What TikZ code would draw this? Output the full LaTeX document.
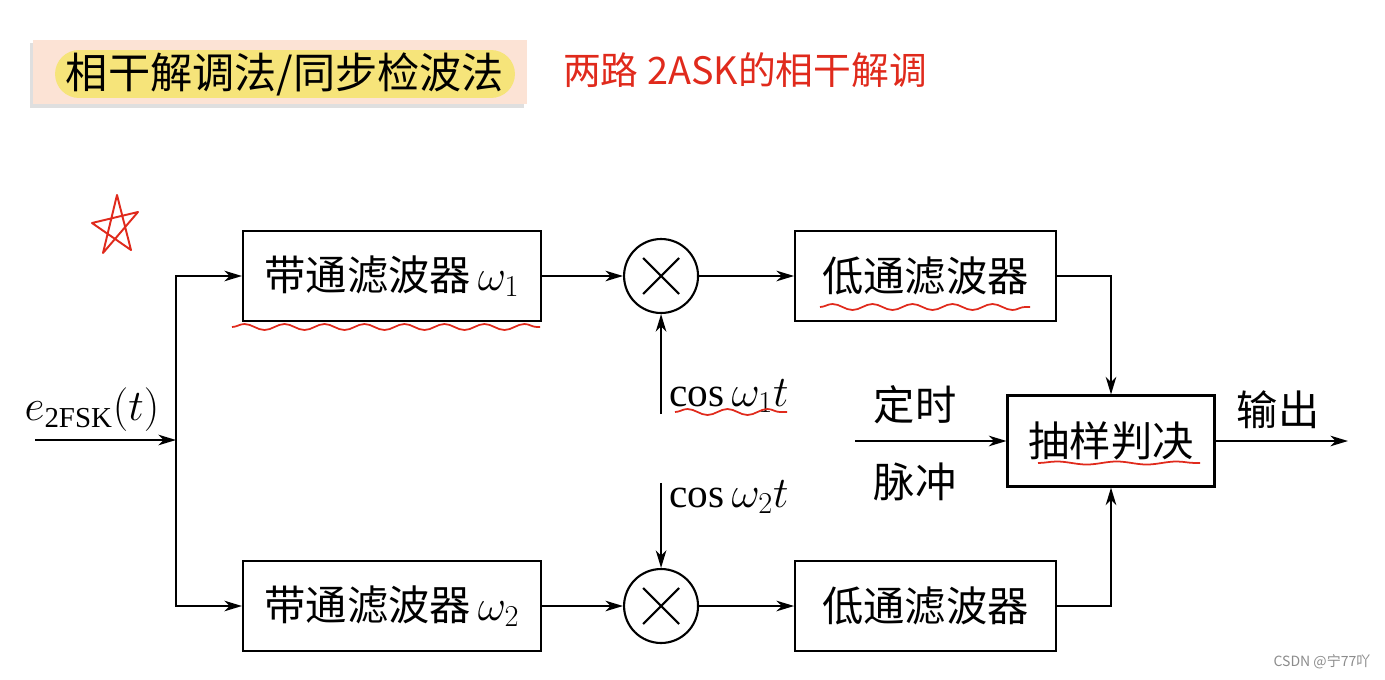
\documentclass[tikz,border=0pt]{standalone}
\usepackage{fontspec}
\setmainfont{Liberation Serif}
\newfontfamily\cjk{Noto Sans CJK SC}
\usetikzlibrary{positioning,arrows.meta,shadows,decorations.pathmorphing}
\definecolor{titlebg}{HTML}{FCE3D5}
\definecolor{marker}{HTML}{F6E47A}
\definecolor{pen}{HTML}{E02A1C}

\begin{document}
\begin{tikzpicture}
      [
        x=0.02cm, y=-0.02cm,
        every node/.style={font=\cjk\fontsize{23.5}{28}\selectfont},
        block/.style={draw, line width=1.2pt, minimum height=1.8cm, inner sep=0pt},
        mult/.style={circle, draw, line width=1.2pt, minimum size=1.48cm, inner sep=0pt},
        arr/.style={-{Stealth[length=10pt,width=6pt,inset=3pt]}, line width=1.2pt},
        wavy/.style={draw=pen, line width=1pt, decorate, decoration={snake, amplitude=0.06cm, segment length=0.8cm}},
        node distance=1.62cm
      ]
      \useasboundingbox (0,0) rectangle (1385,679);
      % title and notes
      \node[fill=titlebg, minimum width=9.9cm, minimum height=1.3cm, drop shadow={shadow xshift=-0.06cm, shadow yshift=-0.07cm, fill=black!25}] (titlebox) at (280,72) {};
      \node[fill=marker, rounded corners=0.48cm, minimum width=9.2cm, minimum height=0.96cm, inner sep=0pt, font=\cjk\fontsize{24}{28}\selectfont] (title) at (285,74) {相干解调法/同步检波法};
      \node[text=pen, font=\cjk\fontsize{21.5}{26}\selectfont] (note) at (745,70) {两路 2ASK的相干解调};
      \draw[pen, line width=1.1pt, line join=round] (117,195) -- (131,250) -- (92,223) -- (138,212) -- (103,253) -- cycle;
      % blocks
      \node[block, minimum width=5.96cm] (bp1) at (392,276) {带通滤波器\,{\fontsize{27}{28}\selectfont$\omega_1$}};
      \node[mult] (m1) [right=of bp1] {};
      \node[block, minimum width=5.22cm] (lp1) [right=1.9cm of m1] {低通滤波器};
      \node[block, minimum width=5.96cm] (bp2) at (392,606) {带通滤波器\,{\fontsize{27}{28}\selectfont$\omega_2$}};
      \node[mult] (m2) [right=of bp2] {};
      \node[block, minimum width=5.22cm] (lp2) [right=1.9cm of m2] {低通滤波器};
      \node[block, minimum width=4.14cm, minimum height=1.82cm] (dec) at (1111,441) {抽样判决};
      \foreach \m in {m1,m2}
        \draw[line width=1.2pt] (\m.center) +(-18,-18) -- +(18,18) (\m.center) +(-18,18) -- +(18,-18);
      % labels
      \node (inl) at (92,410) {$e_{\mathrm{2FSK}}(t)$};
      \node (c1) at (729,396) {$\cos\omega_1 t$};
      \node (c2) at (729,497) {$\cos\omega_2 t$};
      \node (tm1) at (915,405) {定时};
      \node (tm2) at (915,482) {脉冲};
      \node (outl) at (1278,410) {输出};
      \node[text=black!45, font=\cjk\fontsize{8}{10}\selectfont] (mark) at (1322,662) {CSDN @宁77吖};
      % connectors
      \coordinate (in) at (35,440);
      \coordinate (split) at (176,440);
      \coordinate[below=2cm of m1] (c1s);
      \coordinate[above=1.7cm of m2] (c2s);
      \coordinate (tm) at (855,441);
      \coordinate (out) at (1348,441);
      \draw[arr] (in) -- (split);
      \draw[arr] (split) |- (bp1.west);
      \draw[arr] (split) |- (bp2.west);
      \draw[arr] (bp1) -- (m1);
      \draw[arr] (m1) -- (lp1);
      \draw[arr] (bp2) -- (m2);
      \draw[arr] (m2) -- (lp2);
      \draw[arr] (c1s) -- (m1.south);
      \draw[arr] (c2s) -- (m2.north);
      \draw[arr] (lp1.east) -| (dec.north);
      \draw[arr] (lp2.east) -| (dec.south);
      \draw[arr] (tm) -- (dec.west);
      \draw[arr] (dec.east) -- (out);
      % red marks
      \draw[wavy] (232,327) -- (540,327);
      \draw[wavy] (820,307) -- (1030,307);
      \draw[wavy] (675,412) -- (787,412);
      \draw[wavy, decoration={snake, amplitude=0.03cm, segment length=1.2cm}] (1038,463) -- (1200,463);
    \end{tikzpicture}
\end{document}
